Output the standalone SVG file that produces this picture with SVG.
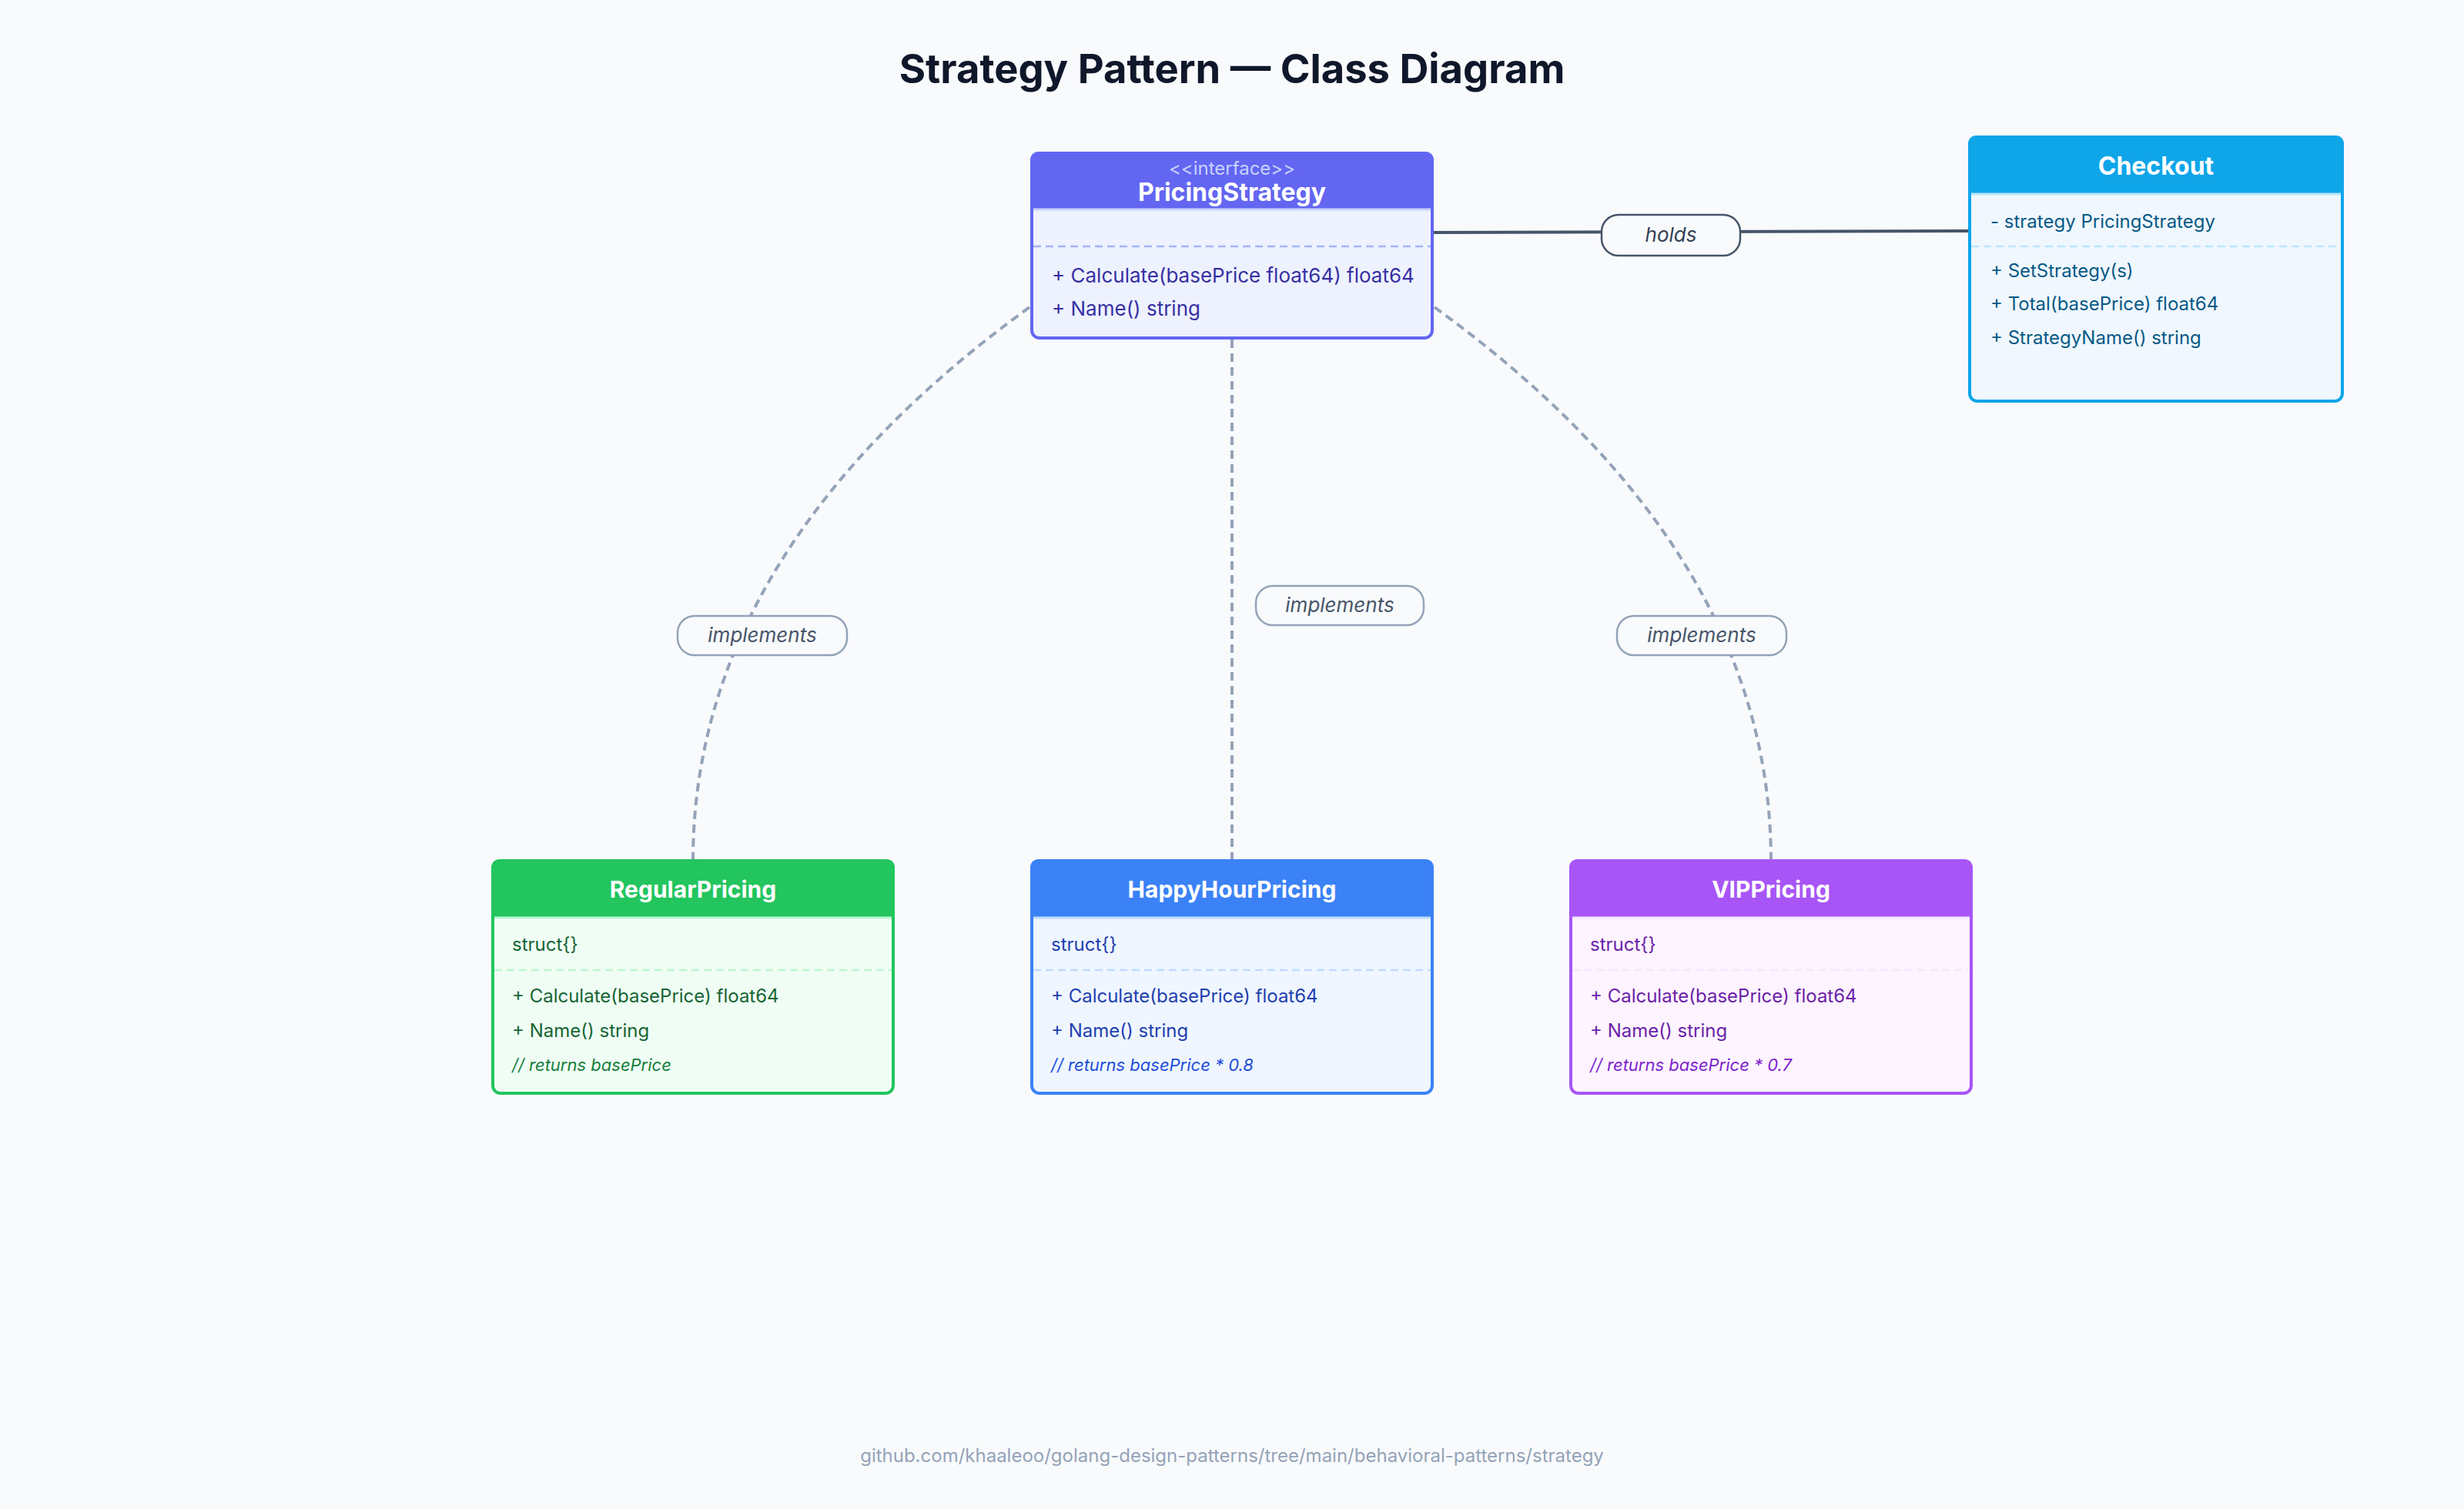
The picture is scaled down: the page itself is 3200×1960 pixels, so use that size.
<svg xmlns="http://www.w3.org/2000/svg" width="3200" height="1960" viewBox="0 0 3200 1960">
<defs>
<style>
text{font-family:Inter,"Noto Sans","Liberation Sans",sans-serif}
.title{font-size:52.5px;font-weight:700;fill:#0f172a}
.footer{font-size:24px;fill:#94a3b8}
.name{font-size:30px;font-weight:700;fill:#ffffff}
.big{font-size:32px}
.stereo{font-size:24px;fill:#c7d2fe}
.m{font-size:26px}
.s{font-size:24px}
.cm{font-size:22px;font-style:italic}
.lbl{font-size:26px;font-style:italic;fill:#475569}
.impl{fill:none;stroke:#94a3b8;stroke-width:4;stroke-dasharray:11 7}
.lblbox{fill:#f8fafc;stroke:#94a3b8;stroke-width:2.5}
.sep{stroke-width:2.5;stroke-dasharray:10 6}
</style>
</defs>
<rect width="3200" height="1960" fill="#f8fafc"/>
<text class="title" x="1600" y="108" text-anchor="middle">Strategy Pattern — Class Diagram</text>

<g id="connectors">
  <path class="impl" d="M1337,399 Q900,716 900,1118"/>
  <path class="impl" d="M1600,441 L1600,1118"/>
  <path class="impl" d="M1863,399 Q2300,716 2300,1118"/>
  <line x1="1862" y1="302" x2="2557" y2="300" stroke="#475569" stroke-width="4"/>
  <rect class="lblbox" x="880" y="800" width="220" height="51" rx="22"/>
  <text class="lbl" x="990" y="834" text-anchor="middle">implements</text>
  <rect class="lblbox" x="1631" y="761" width="218" height="51" rx="22"/>
  <text class="lbl" x="1740" y="795" text-anchor="middle">implements</text>
  <rect class="lblbox" x="2100" y="800" width="220" height="51" rx="22"/>
  <text class="lbl" x="2210" y="834" text-anchor="middle">implements</text>
  <rect x="2080" y="279" width="180" height="53" rx="22" fill="#f8fafc" stroke="#475569" stroke-width="2.5"/>
  <text class="lbl" x="2170" y="314" text-anchor="middle" style="fill:#334155">holds</text>
</g>

<g id="pricing-strategy">
  <rect x="1340" y="199" width="520" height="240" rx="10" fill="#eef2ff" stroke="#6366f1" stroke-width="4"/>
  <path d="M1340,271 V209 Q1340,199 1350,199 H1850 Q1860,199 1860,209 V271 Z" fill="#6366f1" stroke="#6366f1" stroke-width="4"/>
  <line x1="1342" y1="272" x2="1858" y2="272" stroke="#c7d2fe" stroke-width="3"/>
  <line class="sep" x1="1342" y1="320" x2="1858" y2="320" stroke="#a5b4fc"/>
  <text class="stereo" x="1600" y="227" text-anchor="middle">&lt;&lt;interface&gt;&gt;</text>
  <text class="name big" x="1600" y="261" text-anchor="middle">PricingStrategy</text>
  <text class="m" x="1366" y="367" fill="#3730a3">+ Calculate(basePrice float64) float64</text>
  <text class="m" x="1366" y="410" fill="#3730a3">+ Name() string</text>
</g>

<g id="checkout">
  <rect x="2558" y="178" width="484" height="343" rx="10" fill="#f0f7ff" stroke="#0ea5e9" stroke-width="4"/>
  <path d="M2558,251 V188 Q2558,178 2568,178 H3032 Q3042,178 3042,188 V251 Z" fill="#0ea5e9" stroke="#0ea5e9" stroke-width="4"/>
  <line x1="2560" y1="252" x2="3040" y2="252" stroke="#bae6fd" stroke-width="3"/>
  <line class="sep" x1="2560" y1="320" x2="3040" y2="320" stroke="#bae6fd"/>
  <text class="name big" x="2800" y="227" text-anchor="middle">Checkout</text>
  <text class="s" x="2585" y="296" fill="#075985">- strategy PricingStrategy</text>
  <text class="s" x="2585" y="360" fill="#075985">+ SetStrategy(s)</text>
  <text class="s" x="2585" y="403" fill="#075985">+ Total(basePrice) float64</text>
  <text class="s" x="2585" y="447" fill="#075985">+ StrategyName() string</text>
</g>

<g id="regular-pricing">
  <rect x="640" y="1118" width="520" height="302" rx="10" fill="#f0fdf4" stroke="#22c55e" stroke-width="4"/>
  <path d="M640,1191 V1128 Q640,1118 650,1118 H1150 Q1160,1118 1160,1128 V1191 Z" fill="#22c55e" stroke="#22c55e" stroke-width="4"/>
  <line x1="642" y1="1192" x2="1158" y2="1192" stroke="#bbf7d0" stroke-width="3"/>
  <line class="sep" x1="642" y1="1260" x2="1158" y2="1260" stroke="#bbf7d0"/>
  <text class="name" x="900" y="1166" text-anchor="middle">RegularPricing</text>
  <text class="s" x="665" y="1235" fill="#166534">struct{}</text>
  <text class="s" x="665" y="1302" fill="#166534">+ Calculate(basePrice) float64</text>
  <text class="s" x="665" y="1347" fill="#166534">+ Name() string</text>
  <text class="cm" x="665" y="1391" fill="#15803d">// returns basePrice</text>
</g>

<g id="happyhour-pricing">
  <rect x="1340" y="1118" width="520" height="302" rx="10" fill="#eff6ff" stroke="#3b82f6" stroke-width="4"/>
  <path d="M1340,1191 V1128 Q1340,1118 1350,1118 H1850 Q1860,1118 1860,1128 V1191 Z" fill="#3b82f6" stroke="#3b82f6" stroke-width="4"/>
  <line x1="1342" y1="1192" x2="1858" y2="1192" stroke="#bfdbfe" stroke-width="3"/>
  <line class="sep" x1="1342" y1="1260" x2="1858" y2="1260" stroke="#bfdbfe"/>
  <text class="name" x="1600" y="1166" text-anchor="middle">HappyHourPricing</text>
  <text class="s" x="1365" y="1235" fill="#1e40af">struct{}</text>
  <text class="s" x="1365" y="1302" fill="#1e40af">+ Calculate(basePrice) float64</text>
  <text class="s" x="1365" y="1347" fill="#1e40af">+ Name() string</text>
  <text class="cm" x="1365" y="1391" fill="#1d4ed8">// returns basePrice * 0.8</text>
</g>

<g id="vip-pricing">
  <rect x="2040" y="1118" width="520" height="302" rx="10" fill="#fdf4ff" stroke="#a855f7" stroke-width="4"/>
  <path d="M2040,1191 V1128 Q2040,1118 2050,1118 H2550 Q2560,1118 2560,1128 V1191 Z" fill="#a855f7" stroke="#a855f7" stroke-width="4"/>
  <line x1="2042" y1="1192" x2="2558" y2="1192" stroke="#f3e8ff" stroke-width="3"/>
  <line class="sep" x1="2042" y1="1260" x2="2558" y2="1260" stroke="#f3e8ff"/>
  <text class="name" x="2300" y="1166" text-anchor="middle">VIPPricing</text>
  <text class="s" x="2065" y="1235" fill="#6b21a8">struct{}</text>
  <text class="s" x="2065" y="1302" fill="#6b21a8">+ Calculate(basePrice) float64</text>
  <text class="s" x="2065" y="1347" fill="#6b21a8">+ Name() string</text>
  <text class="cm" x="2065" y="1391" fill="#7e22ce">// returns basePrice * 0.7</text>
</g>

<text class="footer" x="1600" y="1899" text-anchor="middle">github.com/khaaleoo/golang-design-patterns/tree/main/behavioral-patterns/strategy</text>
</svg>
